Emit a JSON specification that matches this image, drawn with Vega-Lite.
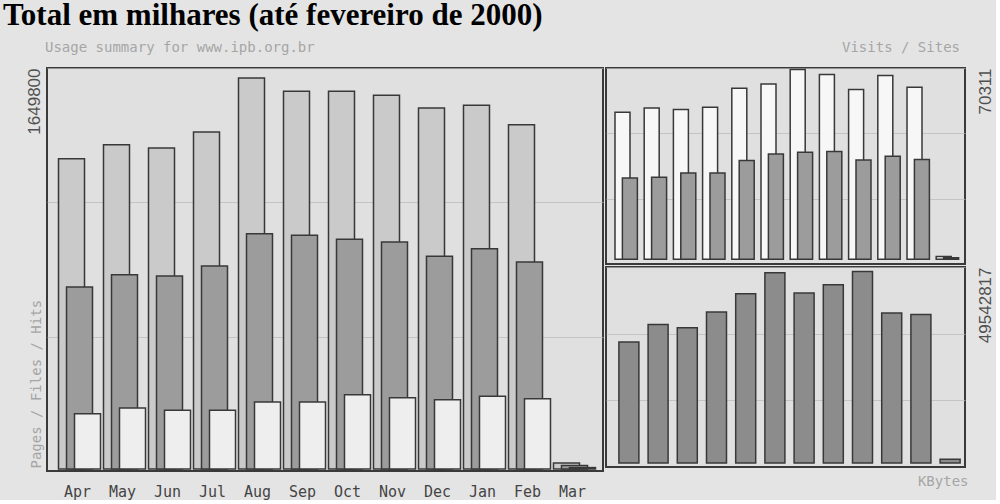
{
  "$schema": "https://vega.github.io/schema/vega-lite/v6.json",
  "background": "#e4e4e4",
  "padding": {"left": 3, "top": 0, "right": 2, "bottom": 0},
  "title": {"text": "Total em milhares (até fevereiro de 2000)", "anchor": "start", "font": "Liberation Serif", "fontSize": 31, "fontWeight": "bold", "color": "#000000", "offset": 8, "dx": -21},
  "datasets": {
    "m": [
      {"month": "Apr", "hits": 1309300, "files": 767900, "pages": 233300, "visits": 54484, "sites": 30133, "kbytes": 31260000},
      {"month": "May", "hits": 1368400, "files": 819800, "pages": 257400, "visits": 56078, "sites": 30392, "kbytes": 35820000},
      {"month": "Jun", "hits": 1354400, "files": 814300, "pages": 247700, "visits": 55485, "sites": 31986, "kbytes": 34960000},
      {"month": "Jul", "hits": 1421900, "files": 856500, "pages": 247700, "visits": 56337, "sites": 31986, "kbytes": 39030000},
      {"month": "Aug", "hits": 1649800, "files": 992800, "pages": 282700, "visits": 63379, "sites": 36582, "kbytes": 43770000},
      {"month": "Sep", "hits": 1593700, "files": 986100, "pages": 282700, "visits": 64973, "sites": 39029, "kbytes": 49210000},
      {"month": "Oct", "hits": 1593700, "files": 969200, "pages": 313500, "visits": 70311, "sites": 39658, "kbytes": 43950000},
      {"month": "Nov", "hits": 1576800, "files": 957800, "pages": 300800, "visits": 68458, "sites": 39918, "kbytes": 46100000},
      {"month": "Dec", "hits": 1523200, "files": 897500, "pages": 292400, "visits": 62897, "sites": 36805, "kbytes": 49542817},
      {"month": "Jan", "hits": 1534600, "files": 929500, "pages": 306800, "visits": 68087, "sites": 38176, "kbytes": 38770000},
      {"month": "Feb", "hits": 1452700, "files": 873400, "pages": 296600, "visits": 63750, "sites": 36953, "kbytes": 38410000},
      {"month": "Mar", "hits": 25000, "files": 15000, "pages": 6000, "visits": 1000, "sites": 600, "kbytes": 1000000}
    ]
  },
  "data": {"name": "m"},
  "config": {
    "view": {"fill": "#e0e0e0", "stroke": "#3a3a3a", "strokeWidth": 2},
    "axis": {"gridColor": "#b8b8b8", "gridWidth": 1, "gridOpacity": 0.7}
  },
  "spacing": 1,
  "hconcat": [
    {
      "width": 556,
      "height": 403,
      "title": {"text": "Usage summary for www.ipb.org.br", "anchor": "start", "frame": "group", "font": "DejaVu Sans Mono", "fontSize": 14, "fontWeight": "normal", "color": "#a6a6a6", "offset": 13, "dx": -2},
      "encoding": {
        "x": {"field": "month", "type": "nominal", "sort": null,
          "scale": {"paddingInner": 0, "paddingOuter": 0.178},
          "axis": {"title": null, "domain": false, "ticks": false, "grid": false, "labelAngle": 0, "labelFont": "DejaVu Sans Mono", "labelFontSize": 15, "labelColor": "#444444", "labelPadding": 13}}
      },
      "resolve": {"axis": {"y": "independent"}},
      "layer": [
        {
          "mark": {"type": "bar", "width": 26, "xOffset": -6, "fill": "#cacaca", "stroke": "#383838", "strokeWidth": 1.5},
          "encoding": {
            "y": {"field": "hits", "type": "quantitative",
              "scale": {"domain": [-8439, 1691994], "nice": false, "zero": false},
              "axis": {"values": [558372, 1125183, 1691994], "grid": true, "domain": false, "ticks": false,
                "labelExpr": "datum.value > 1600000 ? '1649800' : ''", "labelAngle": -90, "labelAlign": "right", "labelBaseline": "bottom", "labelPadding": 4,
                "labelFont": "Liberation Sans", "labelFontSize": 17, "labelColor": "#505050",
                "title": "Pages / Files / Hits", "titleAngle": -90, "titleAlign": "left", "titleBaseline": "bottom", "titleX": -4, "titleY": 400,
                "titleFont": "DejaVu Sans Mono", "titleFontSize": 14, "titleFontWeight": "normal", "titleColor": "#a6a6a6"}}
          }
        },
        {
          "mark": {"type": "bar", "width": 26, "xOffset": 2, "fill": "#9c9c9c", "stroke": "#383838", "strokeWidth": 1.5},
          "encoding": {"y": {"field": "files", "type": "quantitative", "scale": {"domain": [-8439, 1691994], "nice": false, "zero": false}, "axis": null}}
        },
        {
          "mark": {"type": "bar", "width": 26, "xOffset": 10, "fill": "#eeeeee", "stroke": "#383838", "strokeWidth": 1.5},
          "encoding": {"y": {"field": "pages", "type": "quantitative", "scale": {"domain": [-8439, 1691994], "nice": false, "zero": false}, "axis": null}}
        }
      ]
    },
    {
      "spacing": 0,
      "vconcat": [
        {
          "width": 359,
          "height": 196,
          "title": {"text": "Visits / Sites", "anchor": "end", "frame": "group", "font": "DejaVu Sans Mono", "fontSize": 14, "fontWeight": "normal", "color": "#a6a6a6", "offset": 13, "dx": -5},
          "encoding": {
            "x": {"field": "month", "type": "nominal", "sort": null, "scale": {"paddingInner": 0, "paddingOuter": 0.147}, "axis": null}
          },
          "resolve": {"axis": {"y": "independent"}},
          "layer": [
            {
              "mark": {"type": "bar", "width": 15, "xOffset": -2.4, "fill": "#f7f7f7", "stroke": "#383838", "strokeWidth": 1.5},
              "encoding": {
                "y": {"field": "visits", "type": "quantitative",
                  "scale": {"domain": [-1742, 70904], "nice": false, "zero": false},
                  "axis": {"orient": "right", "values": [22473, 46688, 70904], "grid": true, "domain": false, "ticks": false,
                    "labelExpr": "datum.value > 70000 ? '70311' : ''", "labelAngle": -90, "labelAlign": "right", "labelBaseline": "top", "labelPadding": 12,
                    "labelFont": "Liberation Sans", "labelFontSize": 17, "labelColor": "#505050", "title": null}}
              }
            },
            {
              "mark": {"type": "bar", "width": 15, "xOffset": 5, "fill": "#9c9c9c", "stroke": "#383838", "strokeWidth": 1.5},
              "encoding": {"y": {"field": "sites", "type": "quantitative", "scale": {"domain": [-1742, 70904], "nice": false, "zero": false}, "axis": null}}
            }
          ]
        },
        {
          "width": 359,
          "height": 200,
          "mark": {"type": "bar", "width": 20, "xOffset": 4, "fill": "#8c8c8c", "stroke": "#383838", "strokeWidth": 1.5},
          "encoding": {
            "x": {"field": "month", "type": "nominal", "sort": null, "scale": {"paddingInner": 0, "paddingOuter": 0.147},
              "axis": {"labels": false, "ticks": false, "domain": false, "grid": false, "title": "KBytes", "titleAnchor": "end", "titlePadding": 7,
                "titleFont": "DejaVu Sans Mono", "titleFontSize": 14, "titleFontWeight": "normal", "titleColor": "#a6a6a6", "titleX": 362}},
            "y": {"field": "kbytes", "type": "quantitative",
              "scale": {"domain": [-1034296, 50680543], "nice": false, "zero": false},
              "axis": {"orient": "right", "values": [16203984, 33442264, 50680543], "grid": true, "domain": false, "ticks": false,
                "labelExpr": "datum.value > 50000000 ? '49542817' : ''", "labelAngle": -90, "labelAlign": "right", "labelBaseline": "top", "labelPadding": 12,
                "labelFont": "Liberation Sans", "labelFontSize": 17, "labelColor": "#505050", "title": null}}
          }
        }
      ]
    }
  ]
}
